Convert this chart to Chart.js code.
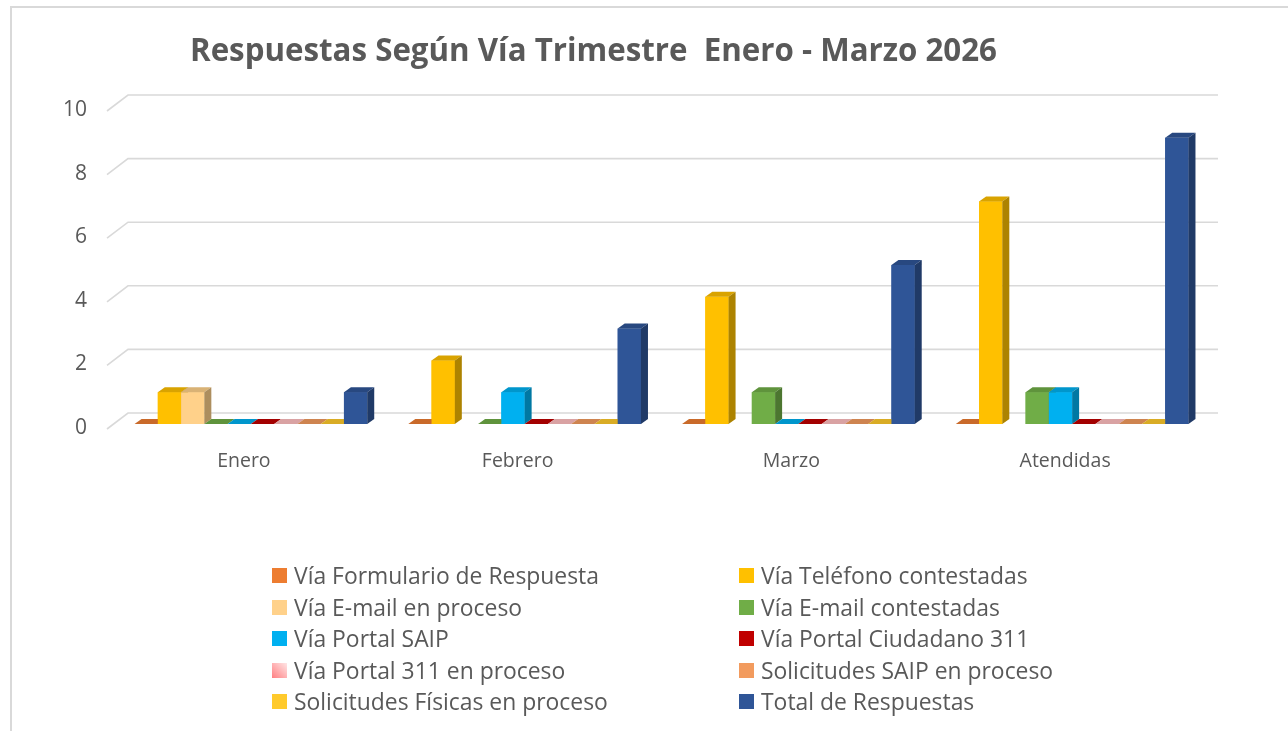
<!DOCTYPE html>
<html>
<head>
<meta charset="utf-8">
<script src="https://cdn.jsdelivr.net/npm/chart.js@4.4.1/dist/chart.umd.min.js"></script>
<style>
  html, body { margin: 0; padding: 0; background: #fff; overflow: hidden; }
  #wrap { position: relative; width: 1288px; height: 731px; }
  #frame { position: absolute; left: 10px; top: 6px; width: 1400px; height: 900px;
           border-left: 2px solid #d9d9d9; border-top: 2px solid #d9d9d9; }
  #chart { position: absolute; left: 0; top: 0; }
  .item { position: absolute; font-family: "Open Sans", sans-serif; font-size: 22.9px;
          color: #595959; white-space: nowrap; line-height: 26px; }
  .box { position: absolute; left: 0; top: 5px; width: 15px; height: 15px; }
  .item span { position: absolute; left: 22px; top: 0; }
</style>
</head>
<body>
<div id="wrap">
  <div id="frame"></div>
  <canvas id="chart" width="1288" height="731"></canvas>
  <div id="legend"></div>
</div>
<script>
// Categories and series
const categories = ['Enero', 'Febrero', 'Marzo', 'Atendidas'];
const seriesNames = [
  'Vía Formulario de Respuesta',
  'Vía Teléfono contestadas',
  'Vía E-mail en proceso',
  'Vía E-mail contestadas',
  'Vía Portal SAIP',
  'Vía Portal Ciudadano 311',
  'Vía Portal 311 en proceso',
  'Solicitudes SAIP en proceso',
  'Solicitudes Físicas en proceso',
  'Total de Respuestas'
];
const seriesColors = ['#ED7D31', '#FFC000', '#FFD18A', '#70AD47', '#00B0F0',
                      '#C00000', '#FFBFC0', '#F29B5E', '#FFCA2C', '#2F5597'];

// null = empty cell (no bar drawn at all)
const formulario       = [0, 0, 0, 0];
const telefono         = [1, 2, 4, 7];
const emailProceso     = [1, null, null, null];
const emailContestadas = [0, 0, 1, 1];
const portalSaip       = [0, 1, 0, 1];
const portal311        = [0, 0, 0, 0];
const portal311Proceso = [0, 0, 0, 0];
const saipProceso      = [0, 0, 0, 0];
const fisicasProceso   = [0, 0, 0, 0];
const totalRespuestas  = [1, 3, 5, 9];

const seriesValues = [formulario, telefono, emailProceso, emailContestadas, portalSaip,
                      portal311, portal311Proceso, saipProceso, fisicasProceso, totalRespuestas];
const yTicks = [0, 2, 4, 6, 8, 10];

const titleText = 'Respuestas Según Vía Trimestre  Enero - Marzo 2026';
const textColor = '#595959';

function shade(hex, f) {
  const n = parseInt(hex.slice(1), 16);
  const r = Math.round(((n >> 16) & 255) * f);
  const g = Math.round(((n >> 8) & 255) * f);
  const b = Math.round((n & 255) * f);
  return `rgb(${r},${g},${b})`;
}

// back wall gridlines with the slanted 3D side
const wallPlugin = {
  id: 'wall',
  beforeDatasetsDraw(chart) {
    const ctx = chart.ctx;
    const y = chart.scales.y;
    const area = chart.chartArea;
    ctx.save();
    ctx.strokeStyle = '#d9d9d9';
    ctx.lineWidth = 1.6;
    yTicks.forEach(v => {
      const py = y.getPixelForValue(v);
      ctx.beginPath();
      ctx.moveTo(area.left - 7, py + 5);
      ctx.lineTo(area.left + 14, py - 11);
      ctx.lineTo(area.right + 9, py - 11);
      ctx.stroke();
    });
    ctx.restore();
  }
};

// front, top and side faces, drawn in series order so that neighbours overlap right
const barsPlugin = {
  id: 'bars3d',
  afterDatasetsDraw(chart) {
    const ctx = chart.ctx;
    const dx = 7, dy = 5;
    ctx.save();
    for (let j = 0; j < categories.length; j++) {
      for (let i = 0; i < seriesValues.length; i++) {
        if (seriesValues[i][j] === null) continue;
        const el = chart.getDatasetMeta(i).data[j];
        const { x, y, base, width } = el.getProps(['x', 'y', 'base', 'width'], true);
        const l = x - width / 2, r = x + width / 2;
        const c = seriesColors[i];
        ctx.fillStyle = c;
        ctx.fillRect(l, y, width, base - y);
        ctx.fillStyle = shade(c, 0.85);
        ctx.beginPath();
        ctx.moveTo(l, y); ctx.lineTo(l + dx, y - dy); ctx.lineTo(r + dx, y - dy); ctx.lineTo(r, y);
        ctx.closePath(); ctx.fill();
        ctx.fillStyle = shade(c, 0.68);
        ctx.beginPath();
        ctx.moveTo(r, y); ctx.lineTo(r + dx, y - dy); ctx.lineTo(r + dx, base - dy); ctx.lineTo(r, base);
        ctx.closePath(); ctx.fill();
      }
    }
    ctx.restore();
  }
};

const titlePlugin = {
  id: 'ownTitle',
  afterDraw(chart) {
    const ctx = chart.ctx;
    ctx.save();
    ctx.font = 'bold 32px "Open Sans"';
    ctx.fillStyle = textColor;
    ctx.textBaseline = 'alphabetic';
    ctx.textAlign = 'center';
    const w = ctx.measureText(titleText).width;
    const target = 807;
    const sx = w > target ? target / w : 1;
    ctx.translate(593.5, 61);
    ctx.scale(sx, 1);
    ctx.fillText(titleText, 0, 0);
    ctx.restore();
  }
};

const ctx = document.getElementById('chart').getContext('2d');
new Chart(ctx, {
  type: 'bar',
  data: {
    labels: categories,
    datasets: seriesNames.map((name, i) => ({
      label: name,
      data: seriesValues[i],
      backgroundColor: seriesColors[i],
      borderWidth: 0,
      categoryPercentage: 0.85,
      barPercentage: 1.0
    }))
  },
  options: {
    responsive: false,
    animation: false,
    events: [],
    layout: { padding: { left: 0, right: 79, top: 106, bottom: 237 } },
    scales: {
      x: {
        grid: { display: false, drawTicks: false },
        border: { display: false },
        ticks: { color: textColor, font: { family: 'Open Sans', size: 19.5 }, padding: 26, labelOffset: -7 },
        afterFit: s => { s.height = 70; }
      },
      y: {
        min: 0,
        max: 10,
        grid: { display: false, drawTicks: false },
        border: { display: false },
        ticks: { stepSize: 2, color: textColor, font: { family: 'Open Sans', size: 21 }, padding: 27, labelOffset: 4 },
        afterFit: s => { s.width = 114; }
      }
    },
    plugins: {
      legend: { display: false },
      title: { display: false },
      tooltip: { enabled: false }
    }
  },
  plugins: [wallPlugin, barsPlugin, titlePlugin]
});

// two-column legend under the chart
const legend = document.getElementById('legend');
seriesNames.forEach((name, i) => {
  const col = i % 2, row = Math.floor(i / 2);
  const item = document.createElement('div');
  item.className = 'item';
  item.style.left = (col === 0 ? 272 : 739) + 'px';
  item.style.top = (563 + row * 31.5) + 'px';
  const box = document.createElement('div');
  box.className = 'box';
  box.style.background = i === 6 ? 'linear-gradient(45deg, #ff7f82, #ffe6e6)' : seriesColors[i];
  const txt = document.createElement('span');
  txt.textContent = name;
  item.appendChild(box);
  item.appendChild(txt);
  legend.appendChild(item);
});
</script>
</body>
</html>
